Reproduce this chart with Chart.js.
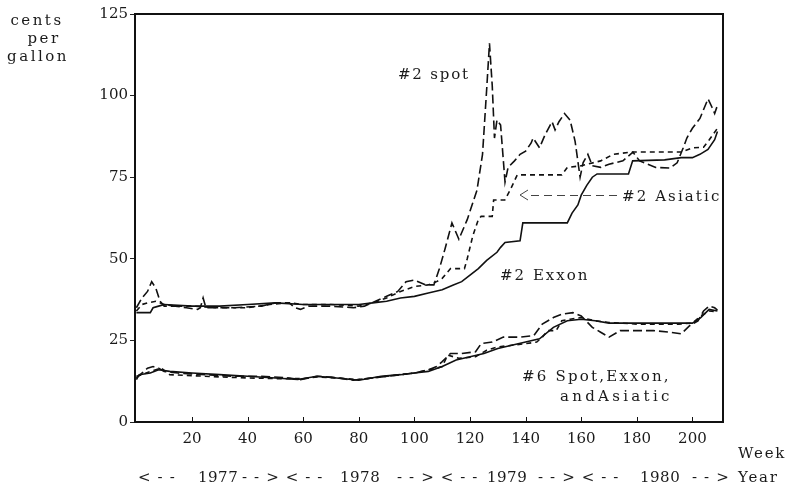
<!DOCTYPE html>
<html>
<head>
<meta charset="utf-8">
<script src="https://cdn.jsdelivr.net/npm/chart.js@4.4.0/dist/chart.umd.min.js"></script>
<style>
  html, body { margin: 0; padding: 0; background: #fff; }
</style>
</head>
<body>
<canvas id="myChart" width="794" height="488"></canvas>
<script>
// weeks since start of 1977 / price in cents per gallon
const spot2Weeks = [0,2,4,5.5,7,8.5,10,14,18,22,23,24,25,28,35,45,50,55,57,59,62,70,78,82,86,90,94,97,100,104,107,109,111,113.5,116,119,122.5,124.5,126,127,128,128.8,129.7,131,132.6,133.7,136,138,140,142,142.7,145,147,149.5,150.6,152,154,156,157.8,159.6,160.7,162.4,164,167,170,175,178.6,181,186.8,192,194.5,196.7,198,200,202.7,205.6,207,208,209];
const spot2Cents = [35,38,40,43,41,37,35.5,35.5,35,34.5,35,38,35,35,35,35.5,36.5,36.5,35,34.5,35.5,35.5,35,35.5,37,38.5,40,43,43.5,42,42,47,53,61,56,62,71,82,102,116,103,87,92.5,91,73.5,78,80,82,83,85.5,87,84,88,92,89.5,92,94.5,92.5,86,75,79.5,82,78.5,78,79,80,82.7,80,78,77.8,79.4,84,87,90,93,99,96.5,94.5,97];

const asia2Weeks = [0,2,4,7,10,14,20,30,40,48,55,60,70,80,85,90,95,100,105,108,110,113,118,119,121,123,124,128,128.5,132.5,134.4,137,153,155,160,167,171.5,178,196,200,204,206,209];
const asia2Cents = [34,36,36.5,37,36,35.5,35.5,35,35,36,36.5,36,36,35.5,36.5,38,40,41.5,42,43,44,47,47,50,57,62,63,63,68,68,71,75.7,75.7,78,78.5,80,82,82.7,82.7,84,84.2,86.4,90];

const exxon2Weeks = [0,5,6,8,10,20,30,40,50,60,70,80,85,90,95,100,105,110,114,117,120,123,126,129.7,131,132.6,138,139,155,156.7,158.8,160,162,164,165.7,177,178.5,190,196,200,202.7,205.6,208,209];
const exxon2Cents = [33.5,33.5,35,35.5,36,35.5,35.5,36,36.5,36,36,36,36.5,37,38,38.5,39.5,40.5,42,43,45,47,49.5,52,53.5,55,55.5,61,61,64,66.5,69.5,72.5,75,76,76,80,80.3,81,81,82,83.5,86.5,89];

const spot6Weeks = [0,2,4,6,8,10,15,25,35,45,55,59,65,70,78,85,90,100,105,108,110,113,117,122,124,128,132,138,143,146,150,153,157,160,164,167,170,174,180,186,192,196,199,202,204,206,208,209];
const spot6Cents = [13.5,15,16.5,17,16.5,15.5,15,14.5,14,14,13.5,13,14,13.8,12.8,13.5,14,15,16,17,18.5,21,21,21.5,24,24.5,26,26,26.5,30,32,33,33.5,32.5,29,27.5,26,28,28,28,27.5,27,29.5,31,34,35.5,35,34.3];

const exxon6Weeks = [0,1,5,8,12,20,30,40,50,58,65,72,80,88,95,100,105,110,115,120,125,130,135,140,145,150,155,160,165,170,190,200,203,206,209];
const exxon6Cents = [13,14.5,15,16,15.5,15,14.5,14,13.5,13,14,13.5,12.8,14,14.5,15,15.5,17,19,20,21,22.5,23.5,24.5,25.5,29,31,31.5,31,30.3,30.3,30.3,32,34.5,34];

const asia6Weeks = [0,2,5,9,12,20,30,40,50,60,65,72,80,88,100,108,110,112,116,122,126,130,135,140,144,146,148,151,153,156,160,165,170,180,195,200,203,206,209];
const asia6Cents = [14,14.5,15.5,16.5,14.5,14.2,13.8,13.5,13.3,13.3,13.8,13.5,13,13.8,15,16.5,17,20.5,19.5,20,22,23,23.5,24,24.5,26,28,28,31,31.5,32,31,30.5,30,30,30.3,32.5,34,33.8];

const xTickWeeks = [20,40,60,80,100,120,140,160,180,200];
const yTickCents = [0,25,50,75,100,125];
const yearLabels = ["<--", "1977", "--><--", "1978", "--><--", "1979", "--><--", "1980", "-->", "Year"];

const FONT = "'DejaVu Serif', 'Liberation Serif', serif";
const INK = '#1a1a1a';

function pts(weeks, cents) {
  return weeks.map((w, i) => ({ x: w, y: cents[i] }));
}

function series(label, weeks, cents, dash) {
  return {
    label: label,
    data: pts(weeks, cents),
    borderColor: '#111',
    borderWidth: 1.6,
    borderDash: dash,
    pointRadius: 0,
    fill: false,
    tension: 0
  };
}

const longDash = [9, 4];
const shortDash = [5, 4];

// frame, inward x ticks and all the loose text
const decor = {
  id: 'decor',
  afterDraw(chart) {
    const ctx = chart.ctx;
    const a = chart.chartArea;
    const xs = chart.scales.x;
    ctx.save();
    ctx.strokeStyle = '#111';
    ctx.lineWidth = 2;
    ctx.strokeRect(a.left, a.top, a.right - a.left, a.bottom - a.top);

    ctx.lineWidth = 1;
    xTickWeeks.forEach(w => {
      const px = Math.round(xs.getPixelForValue(w)) + 0.5;
      ctx.beginPath();
      ctx.moveTo(px, a.bottom);
      ctx.lineTo(px, a.bottom - 5);
      ctx.stroke();
    });

    ctx.fillStyle = INK;
    ctx.font = '15px ' + FONT;
    ctx.textBaseline = 'alphabetic';

    function txt(s, x, y, spacing, align) {
      ctx.letterSpacing = spacing + 'px';
      ctx.textAlign = align || 'left';
      ctx.fillText(s, x, y);
    }

    // y axis title
    txt('cents', 37, 25, 2.5, 'center');
    txt('per', 44, 43, 2.5, 'center');
    txt('gallon', 38, 61, 2.5, 'center');

    // series notes
    txt('#2 spot', 398, 79, 1.8);
    txt('#2 Asiatic', 622, 201, 2.1);
    txt('#2 Exxon', 500, 280, 2);
    txt('#6 Spot,Exxon,', 522, 381, 2.2);
    txt('andAsiatic', 560, 401, 3.3);

    // arrow towards #2 Asiatic
    ctx.strokeStyle = '#444';
    ctx.lineWidth = 1;
    ctx.beginPath();
    ctx.moveTo(528, 190);
    ctx.lineTo(520, 195);
    ctx.lineTo(528, 200);
    ctx.stroke();
    ctx.setLineDash([8, 5]);
    ctx.beginPath();
    ctx.moveTo(531, 195.5);
    ctx.lineTo(617, 195.5);
    ctx.stroke();
    ctx.setLineDash([]);

    // axis notes under the week ticks
    txt('Week', 738, 458, 1.8);
    const yearX = [138, 198, 242, 340, 397, 487, 538, 640, 692, 738];
    yearLabels.forEach((s, i) => {
      const isDash = s.indexOf('-') >= 0;
      txt(s, yearX[i], 482, isDash ? 7 : (s === 'Year' ? 1.8 : 0.5));
    });

    ctx.restore();
  }
};

const ctx = document.getElementById('myChart').getContext('2d');
new Chart(ctx, {
  type: 'line',
  data: {
    datasets: [
      series('#2 spot', spot2Weeks, spot2Cents, longDash),
      series('#2 Asiatic', asia2Weeks, asia2Cents, shortDash),
      series('#2 Exxon', exxon2Weeks, exxon2Cents, []),
      series('#6 spot', spot6Weeks, spot6Cents, longDash),
      series('#6 Asiatic', asia6Weeks, asia6Cents, shortDash),
      series('#6 Exxon', exxon6Weeks, exxon6Cents, [])
    ]
  },
  options: {
    responsive: false,
    animation: false,
    layout: { padding: { top: 14, right: 71, bottom: 0, left: 0 } },
    plugins: {
      legend: { display: false },
      tooltip: { enabled: false }
    },
    scales: {
      x: {
        type: 'linear',
        min: -0.5,
        max: 211,
        afterBuildTicks: s => { s.ticks = xTickWeeks.map(v => ({ value: v })); },
        afterFit: s => { s.height = 66; },
        grid: { display: false, drawTicks: false },
        border: { display: false },
        ticks: {
          color: INK,
          padding: 8,
          maxRotation: 0,
          font: { family: FONT, size: 15 }
        }
      },
      y: {
        min: 0,
        max: 125,
        afterBuildTicks: s => { s.ticks = yTickCents.map(v => ({ value: v })); },
        afterFit: s => { s.width = 135; },
        grid: { drawOnChartArea: false, drawTicks: true, tickLength: 5, color: '#222', lineWidth: 1 },
        border: { display: false },
        ticks: {
          color: INK,
          padding: 2,
          font: { family: FONT, size: 15 }
        }
      }
    }
  },
  plugins: [decor]
});
</script>
</body>
</html>
